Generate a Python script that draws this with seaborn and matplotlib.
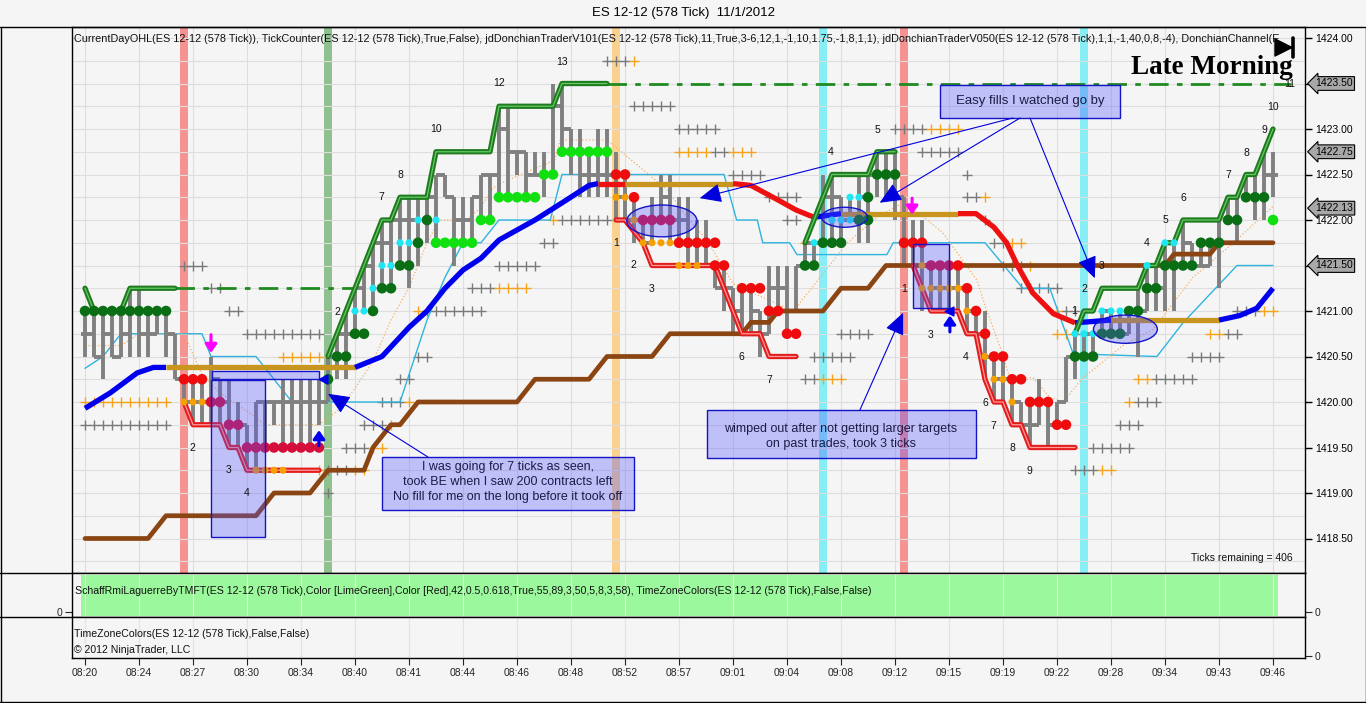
import numpy as np
import pandas as pd
import seaborn as sns
import matplotlib.pyplot as plt
from matplotlib.patches import Rectangle, Ellipse
from matplotlib.lines import Line2D
from matplotlib.transforms import blended_transform_factory

sns.set_style('white')
plt.rcParams['font.family'] = ['Liberation Sans', 'DejaVu Sans']

# ---------------------------------------------------------------
# Data (x = bar index, y = price)
# ---------------------------------------------------------------
time_labels = ['08:20', '08:24', '08:27', '08:30', '08:34', '08:40', '08:41', '08:44',
               '08:46', '08:48', '08:52', '08:57', '09:01', '09:04', '09:08', '09:12',
               '09:15', '09:19', '09:22', '09:28', '09:34', '09:43', '09:46']
price_ticks = [1418.5, 1419.0, 1419.5, 1420.0, 1420.5, 1421.0,
               1421.5, 1422.0, 1422.5, 1423.0, 1423.5, 1424.0]

bar_hi = [
    1421.0, 1421.0, 1421.0, 1421.0, 1421.0, 1421.25, 1421.25, 1421.0, 1421.0, 1421.0,
    1420.75, 1420.25, 1420.25, 1420.25, 1420.5, 1420.25, 1420.25, 1420.0, 1419.75, 1420.0,
    1420.0, 1420.0, 1420.25, 1420.25, 1420.25, 1420.25, 1420.25, 1420.5, 1420.75, 1421.0,
    1421.25, 1421.5, 1421.75, 1422.0, 1422.0, 1422.25, 1422.25, 1422.25, 1422.25, 1422.5,
    1422.5, 1422.25, 1422.25, 1422.25, 1422.5, 1422.5, 1423.25, 1423.25, 1422.75, 1422.75,
    1422.75, 1422.75, 1423.5, 1423.5, 1423.0, 1423.0, 1422.75, 1423.0, 1423.0, 1422.75,
    1422.5, 1422.25, 1422.0, 1422.25, 1422.5, 1422.5, 1422.25, 1422.25, 1422.0, 1422.0,
    1421.5, 1421.5, 1421.25, 1421.25, 1421.25, 1421.0, 1421.5, 1421.5, 1421.5, 1421.5,
    1421.75, 1421.75, 1422.5, 1422.5, 1422.25, 1422.25, 1422.5, 1422.5, 1422.75, 1422.75,
    1422.75, 1422.25, 1422.0, 1422.0, 1421.5, 1421.5, 1421.5, 1421.5, 1421.25, 1421.0,
    1421.0, 1420.5, 1420.5, 1420.25, 1420.0, 1420.0, 1420.25, 1420.0, 1420.0, 1420.5,
    1420.75, 1420.75, 1420.75, 1421.0, 1421.0, 1421.0, 1421.0, 1421.25, 1421.5, 1421.5,
    1421.75, 1421.75, 1422.0, 1421.75, 1421.75, 1421.75, 1422.0, 1422.25, 1422.25, 1422.5,
    1422.5, 1422.75, 1422.75]
bar_lo = [
    1420.5, 1420.5, 1420.25, 1420.5, 1420.5, 1420.5, 1420.5, 1420.5, 1420.75, 1420.5,
    1420.25, 1420.0, 1419.75, 1419.75, 1419.75, 1419.75, 1419.5, 1419.5, 1419.25, 1419.25,
    1419.5, 1419.75, 1419.5, 1419.5, 1419.5, 1419.5, 1419.75, 1420.0, 1420.25, 1420.25,
    1420.75, 1421.0, 1421.0, 1421.25, 1421.25, 1421.5, 1421.25, 1421.5, 1421.75, 1421.75,
    1422.25, 1421.5, 1421.75, 1421.75, 1422.0, 1422.0, 1422.25, 1422.25, 1422.5, 1422.25,
    1422.5, 1422.25, 1422.5, 1422.75, 1422.5, 1422.25, 1422.25, 1422.25, 1422.25, 1422.0,
    1422.0, 1421.75, 1421.75, 1421.75, 1422.0, 1421.75, 1421.75, 1421.5, 1421.5, 1421.5,
    1421.25, 1421.0, 1420.75, 1420.75, 1420.75, 1420.5, 1420.75, 1421.0, 1420.75, 1421.0,
    1421.5, 1421.5, 1421.75, 1421.75, 1421.75, 1422.0, 1421.75, 1421.75, 1422.25, 1422.25,
    1422.0, 1421.5, 1421.5, 1421.0, 1421.0, 1421.0, 1421.0, 1421.0, 1420.75, 1420.75,
    1420.25, 1420.0, 1420.0, 1419.75, 1419.75, 1419.5, 1419.75, 1419.5, 1419.75, 1420.0,
    1420.25, 1420.5, 1420.5, 1420.75, 1420.75, 1420.75, 1420.75, 1420.5, 1421.0, 1421.0,
    1421.0, 1421.0, 1421.5, 1421.5, 1421.5, 1421.5, 1421.25, 1422.0, 1421.75, 1422.25,
    1422.0, 1422.0, 1422.25]
bar_close = [
    1420.75, 1420.5, 1420.75, 1420.5, 1420.75, 1421.0, 1420.75, 1420.75, 1421.0, 1420.75,
    1420.25, 1420.0, 1420.0, 1420.0, 1420.25, 1420.0, 1419.75, 1419.75, 1419.5, 1420.0,
    1420.0, 1420.0, 1420.0, 1420.0, 1420.0, 1420.0, 1420.0, 1420.5, 1420.75, 1420.75,
    1421.25, 1421.5, 1421.75, 1421.75, 1422.0, 1422.0, 1422.0, 1422.25, 1422.25, 1422.5,
    1422.25, 1422.0, 1422.0, 1422.25, 1422.5, 1422.5, 1423.0, 1422.75, 1422.75, 1422.5,
    1422.5, 1422.5, 1423.25, 1423.0, 1422.75, 1422.5, 1422.5, 1422.5, 1422.5, 1422.25,
    1422.0, 1422.0, 1421.75, 1422.0, 1422.25, 1422.0, 1422.0, 1421.75, 1421.75, 1421.5,
    1421.25, 1421.25, 1421.0, 1420.75, 1421.0, 1420.75, 1421.25, 1421.25, 1421.0, 1421.5,
    1421.75, 1421.75, 1422.25, 1422.25, 1422.0, 1422.0, 1422.25, 1422.5, 1422.5, 1422.5,
    1422.25, 1421.75, 1421.75, 1421.5, 1421.25, 1421.25, 1421.25, 1421.25, 1421.0, 1420.75,
    1420.5, 1420.25, 1420.25, 1420.0, 1419.75, 1419.75, 1420.0, 1419.75, 1420.0, 1420.5,
    1420.5, 1420.75, 1420.75, 1421.0, 1420.75, 1420.75, 1421.0, 1421.0, 1421.25, 1421.25,
    1421.5, 1421.5, 1421.75, 1421.5, 1421.5, 1421.75, 1421.75, 1422.0, 1422.0, 1422.5,
    1422.25, 1422.5, 1422.5]
first_open = 1420.75

# upper Donchian trail (green) pieces
green_1_bar = [0, 1, 4, 5, 10]
green_1_val = [1421.25, 1421.0, 1421.0, 1421.25, 1421.25]
green_2_bar = [27, 28, 29, 30, 31, 32, 33, 34, 35, 38, 39, 45, 46, 52, 53, 58]
green_2_val = [1420.5, 1420.75, 1421.0, 1421.25, 1421.5, 1421.75, 1422.0, 1422.0,
               1422.25, 1422.25, 1422.75, 1422.75, 1423.25, 1423.25, 1423.5, 1423.5]
green_3_bar = [80, 83, 87, 88, 90]
green_3_val = [1421.75, 1422.5, 1422.5, 1422.75, 1422.75]
green_4_bar = [110, 111, 112, 113, 117, 118, 119, 120, 121, 122, 126, 127, 128, 129, 130, 131, 132]
green_4_val = [1420.75, 1421.0, 1421.0, 1421.25, 1421.25, 1421.5, 1421.5, 1421.75, 1421.75,
               1422.0, 1422.0, 1422.25, 1422.25, 1422.5, 1422.5, 1422.75, 1423.0]
dashdot_bar = [[10, 30], [58, 134]]
dashdot_val = [1421.25, 1423.5]

# lower trail (red) pieces
red_1_bar = [11, 12, 15, 16, 17, 18, 26]
red_1_val = [1420.0, 1419.75, 1419.75, 1419.5, 1419.5, 1419.25, 1419.25]
red_2_bar = [59, 60, 62, 63, 70, 73, 75, 76, 79]
red_2_val = [1422.0, 1422.0, 1421.75, 1421.5, 1421.5, 1420.75, 1420.75, 1420.5, 1420.5]
red_3_bar = [92, 94, 97, 98, 99, 100, 101, 102, 103, 104, 105, 110]
red_3_val = [1421.5, 1421.0, 1421.0, 1420.75, 1420.75, 1420.25, 1420.0, 1420.0,
             1419.75, 1419.75, 1419.5, 1419.5]

# slow average, coloured by slope
ma_bar = [0, 2.8, 5.8, 7.6, 9, 30, 33, 36, 38, 40, 42, 44, 46, 50, 53.5, 56, 57, 60, 72,
          74, 77, 79, 81, 84, 97, 99, 101, 102.4, 103.6, 105.3, 107.6, 110, 114, 126,
          128.3, 130.2, 132]
ma_val = [1419.93, 1420.1, 1420.32, 1420.38, 1420.38, 1420.38, 1420.5, 1420.82, 1421.0,
          1421.25, 1421.45, 1421.58, 1421.78, 1422.0, 1422.22, 1422.38, 1422.4, 1422.4,
          1422.4, 1422.38, 1422.22, 1422.11, 1422.03, 1422.07, 1422.07, 1422.07, 1421.92,
          1421.75, 1421.5, 1421.2, 1420.97, 1420.87, 1420.9, 1420.9, 1420.95, 1421.03, 1421.25]
ma_tone = ['up'] * 4 + ['flat'] + ['up'] * 11 + ['down', 'flat'] + ['down'] * 4 + \
          ['up', 'flat'] + ['down'] * 7 + ['up', 'flat'] + ['up'] * 3

# rising floor (brown)
brown_bar = [0, 7, 9, 19, 21, 25, 27, 31, 32, 34, 35, 37, 48, 50, 56, 58, 63, 65, 73, 74,
             76, 77, 82, 84, 87, 89, 120, 121, 125, 126, 132]
brown_val = [1418.5, 1418.5, 1418.75, 1418.75, 1419.0, 1419.0, 1419.25, 1419.25, 1419.5,
             1419.75, 1419.75, 1420.0, 1420.0, 1420.25, 1420.25, 1420.5, 1420.5, 1420.75,
             1420.75, 1420.875, 1420.875, 1421.0, 1421.0, 1421.25, 1421.25, 1421.5, 1421.5,
             1421.625, 1421.625, 1421.75, 1421.75]

# thin channel lines
cyan_bar = [0, 2, 4, 13, 14, 19, 23, 35, 38, 40, 42, 44, 46, 51.7, 53, 71, 72.4, 74.7, 75.3,
            78.3, 79.1, 89.1, 89.8, 100, 104.2, 107.2, 109.8, 119.1, 122, 128, 132]
cyan_val = [1420.37, 1420.5, 1420.75, 1420.75, 1420.5, 1420.5, 1420.0, 1420.0, 1420.9,
            1421.37, 1421.75, 1421.75, 1422.0, 1422.0, 1422.5, 1422.5, 1422.0, 1422.0,
            1421.75, 1421.75, 1421.62, 1421.62, 1421.75, 1421.75, 1421.25, 1421.25,
            1420.53, 1420.5, 1420.87, 1421.5, 1421.5]
tan_bar = [0, 4, 6, 11, 13, 15, 18, 20, 26, 28, 30, 32, 34, 36, 38, 39.4, 42.4, 43.9, 45.3,
           46.1, 52.2, 52.8, 58, 60.2, 64.7, 66.9, 69.1, 72, 75.3, 78.7, 81.7, 84.7, 88,
           90.9, 93.6, 95.3, 97.2, 99.1, 100.2, 101.7, 102.8, 105.3, 107.2, 108.7, 110.9,
           113.1, 115.3, 118.7, 123.1, 124.7, 127.6, 132]
tan_val = [1420.62, 1420.62, 1420.75, 1420.75, 1420.3, 1420.1, 1419.9, 1419.75, 1419.75,
           1419.9, 1420.15, 1420.45, 1420.9, 1421.26, 1421.75, 1422.0, 1422.0, 1422.13,
           1422.35, 1422.4, 1422.66, 1422.88, 1422.88, 1422.7, 1422.33, 1422.03, 1421.78,
           1421.3, 1421.15, 1421.0, 1421.37, 1421.75, 1422.03, 1422.19, 1422.0, 1421.86,
           1421.6, 1421.34, 1421.0, 1420.6, 1420.25, 1420.27, 1420.05, 1420.0, 1420.27,
           1420.44, 1420.62, 1420.8, 1421.37, 1421.5, 1421.75, 1422.15]

# dot rows: first bar, last bar, price, colour key
dot_start = [0, 11, 11, 14, 16, 18, 19, 27, 28, 30, 30, 32, 32, 33, 33, 35, 35, 37, 37, 38,
             39, 39, 44, 46, 51, 53, 59, 59, 61, 61, 62, 62, 66, 66, 70, 73, 76, 78, 80, 81,
             82, 83, 86, 85, 87, 88, 91, 93, 94, 97, 93, 98, 98, 99, 100, 100, 101, 101,
             103, 103, 105, 108, 110, 110, 113, 113, 116, 118, 118, 120, 120, 124, 127, 129, 132]
dot_end = [9, 13, 13, 15, 17, 26, 22, 27, 29, 31, 31, 32, 32, 34, 34, 36, 36, 37, 37, 38,
           39, 43, 45, 50, 52, 58, 60, 60, 61, 61, 65, 65, 70, 68, 71, 75, 77, 79, 81, 81,
           84, 85, 87, 86, 87, 90, 93, 93, 96, 97, 97, 98, 98, 99, 100, 100, 102, 102,
           104, 103, 107, 109, 112, 112, 115, 115, 117, 119, 118, 123, 121, 126, 128, 131, 132]
dot_price = [1421.0, 1420.25, 1420.0, 1420.0, 1419.75, 1419.5, 1419.25, 1420.25, 1420.5,
             1420.75, 1421.0, 1421.0, 1421.25, 1421.25, 1421.5, 1421.5, 1421.75, 1421.75,
             1422.0, 1422.0, 1422.0, 1421.75, 1422.0, 1422.25, 1422.5, 1422.75, 1422.5,
             1422.25, 1422.25, 1422.0, 1422.0, 1421.75, 1421.75, 1421.5, 1421.5, 1421.25,
             1421.0, 1420.75, 1421.5, 1421.75, 1421.75, 1422.0, 1422.0, 1422.25, 1422.25,
             1422.5, 1421.75, 1421.5, 1421.5, 1421.5, 1421.25, 1421.25, 1421.0, 1421.0,
             1420.75, 1420.5, 1420.5, 1420.25, 1420.25, 1420.0, 1420.0, 1419.75, 1420.5,
             1420.75, 1420.75, 1421.0, 1421.0, 1421.25, 1421.5, 1421.5, 1421.75, 1421.75,
             1422.0, 1422.25, 1422.0]
dot_tone = ['dg', 'red', 'org', 'crim', 'crim', 'crim', 'org', 'dg', 'dg', 'dg', 'cyan', 'dg',
            'cyan', 'dg', 'cyan', 'dg', 'cyan', 'dg', 'cyan', 'dg', 'cyan', 'lime', 'lime',
            'lime', 'lime', 'lime', 'red', 'org', 'red', 'org', 'crim', 'org', 'red', 'org',
            'red', 'red', 'red', 'red', 'dg', 'cyan', 'dg', 'cyan', 'dg', 'cyan', 'dg', 'dg',
            'red', 'org', 'crim', 'red', 'org', 'red', 'org', 'red', 'red', 'org', 'red',
            'org', 'red', 'org', 'red', 'red', 'dg', 'cyan', 'dg', 'cyan', 'dg', 'dg', 'cyan',
            'dg', 'cyan', 'dg', 'dg', 'dg', 'lime']

# projected "+" rows: first bar, last bar, price, colour key
cross_start = [11, 14, 16, 18, 22, 0, 0, 33, 36, 31, 34, 35, 37, 29, 32, 26, 27, 30, 27,
               37, 38, 43, 46, 46, 51, 52, 53, 58, 61, 61, 66, 66, 70, 72, 72, 76, 78, 80,
               90, 94, 93, 98, 98, 100, 100, 101, 103, 102, 105, 104, 108, 109, 108, 110,
               125, 127, 123, 117, 119, 116, 117, 115, 112, 110, 113, 84, 81, 80, 82, 128, 131]
cross_end = [13, 15, 17, 26, 26, 9, 9, 35, 36, 33, 34, 36, 38, 31, 33, 26, 29, 31, 27,
             37, 44, 45, 49, 50, 52, 52, 58, 60, 61, 65, 70, 69, 71, 74, 75, 79, 79, 80,
             93, 97, 97, 98, 99, 100, 100, 102, 104, 104, 105, 108, 108, 110, 109, 110,
             126, 128, 126, 118, 123, 116, 119, 117, 116, 112, 114, 87, 85, 81, 84, 130, 132]
cross_price = [1421.5, 1421.25, 1421.0, 1420.75, 1420.5, 1420.0, 1419.75, 1420.0, 1420.0,
               1419.75, 1419.75, 1420.25, 1420.5, 1419.5, 1419.5, 1419.25, 1419.25, 1419.25,
               1419.0, 1421.0, 1421.0, 1421.25, 1421.25, 1421.5, 1421.75, 1422.0, 1422.0,
               1423.75, 1423.75, 1423.25, 1423.0, 1422.75, 1422.75, 1422.75, 1422.5, 1422.25,
               1422.0, 1421.75, 1423.0, 1423.0, 1422.75, 1422.5, 1422.25, 1422.25, 1422.0,
               1421.75, 1421.75, 1421.5, 1421.5, 1421.25, 1421.0, 1421.0, 1420.75, 1420.75,
               1420.75, 1420.75, 1420.5, 1420.25, 1420.25, 1420.0, 1420.0, 1419.75, 1419.5,
               1419.25, 1419.25, 1420.75, 1420.5, 1420.25, 1420.25, 1421.0, 1421.0]
cross_tone = ['g', 'g', 'g', 'g', 'o', 'o', 'g', 'g', 'o', 'g', 'o', 'g', 'g', 'g', 'o', 'o',
              'g', 'o', 'g', 'o', 'g', 'g', 'o', 'g', 'g', 'o', 'g', 'g', 'o', 'g', 'g', 'o',
              'g', 'o', 'g', 'g', 'g', 'o', 'g', 'o', 'g', 'g', 'g', 'o', 'g', 'g', 'o', 'g',
              'o', 'g', 'o', 'g', 'o', 'g', 'o', 'g', 'g', 'o', 'g', 'o', 'g', 'g', 'g', 'g',
              'o', 'g', 'g', 'g', 'o', 'g', 'o']

# trade-count labels
count_bar = [11.9, 16, 18, 28, 32.9, 35, 39, 46, 53, 59, 60.9, 63, 72.9, 76, 82.9, 88, 91,
             94, 97.9, 100, 100.9, 103, 104.9, 109.9, 111, 112.9, 118, 120, 122, 127, 129,
             131, 132, 133.9]
count_price = [1419.49, 1419.25, 1419.0, 1420.99, 1422.25, 1422.5, 1423.0, 1423.5, 1423.74,
               1421.75, 1421.5, 1421.24, 1420.5, 1420.24, 1422.75, 1422.99, 1421.24, 1420.74,
               1420.5, 1419.99, 1419.74, 1419.49, 1419.24, 1421.0, 1421.24, 1421.49, 1421.75,
               1422.0, 1422.24, 1422.49, 1422.74, 1422.99, 1423.24, 1423.49]
count_text = ['2', '3', '4', '2', '7', '8', '10', '12', '13', '1', '2', '3', '6', '7', '4',
              '5', '1', '3', '4', '6', '7', '8', '9', '1', '2', '3', '4', '5', '6', '7', '8',
              '9', '10', '11']

# time-zone bands
band_bar = [11, 27, 59, 82, 91, 111]
band_tone = ['#f59391', '#8fc08f', '#f9d291', '#86eef4', '#f59391', '#86eef4']

# last-price tags on the price axis
tag_price = [1423.5, 1422.75, 1422.13, 1421.5]

# ---------------------------------------------------------------
# Figure layout (pixel geometry of the screenshot)
# ---------------------------------------------------------------
W, H = 1366, 703
fig = plt.figure(figsize=(W / 100, H / 100), dpi=100, facecolor='#f5f5f5')


def fx(px):
    return px / W


def fy(py):
    return 1 - py / H


ax = fig.add_axes([fx(72), fy(573), fx(1305) - fx(72), fy(27) - fy(573)])
ax2 = fig.add_axes([fx(72), fy(617), fx(1305) - fx(72), fy(573) - fy(617)])
ax3 = fig.add_axes([fx(72), fy(658), fx(1305) - fx(72), fy(617) - fy(658)])
for a in (ax, ax2, ax3):
    a.set_facecolor('#f5f5f5')
    for s in a.spines.values():
        s.set_color('black')
        s.set_linewidth(1)
    a.set_xlim(-13 / 9, 1220 / 9)

bars = np.arange(len(bar_hi))
grid_x = np.arange(0, len(bar_hi), 6)

# ---------------------------------------------------------------
# Main price panel
# ---------------------------------------------------------------
for b, c in zip(band_bar, band_tone):
    ax.axvspan(b - 0.48, b + 0.48, color=c, lw=0, zorder=0.5)
for v in np.arange(1418.25, 1424.01, 0.25):
    ax.axhline(v, color='#dedede', lw=0.8, zorder=1)
for gx in grid_x:
    ax.axvline(gx, color='#dedede', lw=0.8, zorder=1)

# projected crosses
cross_rows = []
for s, e, p, t in zip(cross_start, cross_end, cross_price, cross_tone):
    for b in range(s, e + 1):
        cross_rows.append((b, p, t))
cross_df = pd.DataFrame(cross_rows, columns=['bar', 'price', 'tone'])
for t, c in [('g', '#7a7a7a'), ('o', '#f5a31a')]:
    sub = cross_df[cross_df.tone == t]
    sns.scatterplot(x=sub.bar, y=sub.price, marker='+', s=48, color=c, linewidth=1,
                    ax=ax, zorder=2, legend=False)

# thin channel lines
sns.lineplot(x=cyan_bar, y=cyan_val, estimator=None, sort=False, color='#2fb4e0', lw=1,
             ax=ax, zorder=2.5)
sns.lineplot(x=tan_bar, y=tan_val, estimator=None, sort=False, color='#f2b066', lw=0.9,
             ls=':', ax=ax, zorder=2.5)

# dash-dot session lines
for bb, v in zip(dashdot_bar, dashdot_val):
    ax.plot(bb, [v, v], color='#1f8a1f', lw=2, dashes=(7, 3, 2, 3), zorder=2.6)

# gray range bars
opens = np.clip(np.r_[first_open, bar_close[:-1]], bar_lo, bar_hi)
ax.vlines(bars, bar_lo, bar_hi, color='#808080', lw=2.8, zorder=3)
ax.hlines(opens, bars - 0.5, bars, color='#808080', lw=2.8, zorder=3)
ax.hlines(bar_close, bars, bars + 0.5, color='#808080', lw=2.8, zorder=3)

# brown floor
sns.lineplot(x=brown_bar, y=brown_val, estimator=None, sort=False, color='#8b4513',
             lw=3.4, ax=ax, zorder=4)

# slope-coloured average
ma_color = {'up': '#0000ee', 'down': '#ee1111', 'flat': '#c8961e'}
run_start = 0
for i in range(1, len(ma_tone) + 1):
    if i == len(ma_tone) or ma_tone[i] != ma_tone[run_start]:
        xs = ma_bar[run_start:i + 1]
        ys = ma_val[run_start:i + 1]
        sns.lineplot(x=xs, y=ys, estimator=None, sort=False, color=ma_color[ma_tone[run_start]],
                     lw=3.8, ax=ax, zorder=4.5, solid_capstyle='butt')
        run_start = i

# trailing stops
for xs, ys in [(green_1_bar, green_1_val), (green_2_bar, green_2_val),
               (green_3_bar, green_3_val), (green_4_bar, green_4_val)]:
    sns.lineplot(x=xs, y=ys, estimator=None, sort=False, color='#1e7b1e', lw=3.8, ax=ax, zorder=5)
    sns.lineplot(x=xs, y=ys, estimator=None, sort=False, color='#66c866', lw=0.9, ax=ax, zorder=5.1)
for xs, ys in [(red_1_bar, red_1_val), (red_2_bar, red_2_val), (red_3_bar, red_3_val)]:
    sns.lineplot(x=xs, y=ys, estimator=None, sort=False, color='#e21b1b', lw=3.8, ax=ax, zorder=5)
    sns.lineplot(x=xs, y=ys, estimator=None, sort=False, color='#ff9a9a', lw=0.9, ax=ax, zorder=5.1)

# dots
dot_rows = []
for s, e, p, t in zip(dot_start, dot_end, dot_price, dot_tone):
    for b in range(s, e + 1):
        dot_rows.append((b, p, t))
dot_df = pd.DataFrame(dot_rows, columns=['bar', 'price', 'tone'])
dot_palette = {'dg': '#0a6e14', 'lime': '#10e010', 'cyan': '#1ee6f2', 'red': '#ee0c0c',
               'crim': '#d40f3c', 'org': '#f5a000'}
dot_sizes = {'dg': 58, 'lime': 58, 'red': 58, 'crim': 58, 'cyan': 26, 'org': 26}
sns.scatterplot(data=dot_df, x='bar', y='price', hue='tone', palette=dot_palette,
                size='tone', sizes=dot_sizes, edgecolor='none', legend=False, ax=ax, zorder=6)

# hand-drawn zones
zone_face = (0.32, 0.32, 1.0, 0.32)
for (x0, y0, w, h) in [(14.0, 1418.516, 6.0, 1.726), (14.1, 1420.253, 11.9, 0.088),
                       (92.0, 1421.033, 4.0, 0.703)]:
    ax.add_patch(Rectangle((x0, y0), w, h, fc=zone_face, ec='#1414c8', lw=1, zorder=7))
for (cx, cy, w, h) in [(64.1, 1421.99, 7.8, 0.35), (84.4, 1422.03, 5.1, 0.22),
                       (115.6, 1420.80, 7.1, 0.31)]:
    ax.add_patch(Ellipse((cx, cy), w, h, fc=zone_face, ec='#1414c8', lw=1, zorder=7))

# comment boxes
txt_kw = dict(ha='center', va='center', color='#1c1c48', fontsize=9, zorder=9)
ax.add_patch(Rectangle((33.0, 1418.81), 28.0, 0.586, fc=zone_face, ec='#1414c8', lw=1, zorder=8))
ax.text(47, 1419.286, 'I was going for 7 ticks as seen,', **txt_kw)
ax.text(47, 1419.121, 'took BE when I saw 200 contracts left', **txt_kw)
ax.text(47, 1418.956, 'No fill for me on the long before it took off', **txt_kw)
ax.add_patch(Rectangle((69.1, 1419.385), 29.9, 0.527, fc=zone_face, ec='#1414c8', lw=1, zorder=8))
ax.text(84, 1419.703, 'wimped out after not getting larger targets', **txt_kw)
ax.text(84, 1419.538, 'on past trades, took 3 ticks', **txt_kw)
ax.add_patch(Rectangle((95.0, 1423.121), 20.0, 0.363, fc=zone_face, ec='#1414c8', lw=1, zorder=8))
ax.text(105, 1423.305, 'Easy fills I watched go by', **dict(txt_kw, fontsize=9.5))

# pointer arrows
big_arrow = dict(arrowstyle='-|>,head_length=0.9,head_width=0.4', color='#0000dd', lw=0.8,
                 mutation_scale=15, shrinkA=0, shrinkB=0)
for tail, head in [((38.1, 1419.396), (27.0, 1420.09)), ((86.1, 1419.912), (90.9, 1420.98)),
                   ((103.1, 1423.121), (68.3, 1422.24)), ((103.9, 1423.121), (88.3, 1422.19)),
                   ((105.0, 1423.121), (112.2, 1421.36))]:
    ax.annotate('', xy=head, xytext=tail, arrowprops=big_arrow, zorder=9)
small_arrow = dict(arrowstyle='-|>,head_length=0.5,head_width=0.35', lw=2.2,
                   mutation_scale=10, shrinkA=0, shrinkB=0)
for tail, head, c in [((14, 1420.74), (14, 1420.54), '#ff00ff'),
                      ((91.9, 1422.24), (91.9, 1422.06), '#ff00ff'),
                      ((26, 1419.52), (26, 1419.69), '#0000ee'),
                      ((96.1, 1420.77), (96.1, 1420.95), '#0000ee')]:
    ax.annotate('', xy=head, xytext=tail, arrowprops=dict(small_arrow, color=c), zorder=9)
ax.scatter([26.4, 96.0], [1420.25, 1421.0], marker='<', s=40, color='#0000ee', zorder=9)

# counters
for b, p, t in zip(count_bar, count_price, count_text):
    ax.text(b, p, t, ha='center', va='center', fontsize=7.5, color='#111111', zorder=9)

# header + overlays
ax.text(2 / 1233, 1 - 12 / 546, 'CurrentDayOHL(ES 12-12 (578 Tick)), TickCounter(ES 12-12 (578 Tick),'
        'True,False), jdDonchianTraderV101(ES 12-12 (578 Tick),11,True,3-6,12,1,-1,10,1.75,-1,8,1,1), '
        'jdDonchianTraderV050(ES 12-12 (578 Tick),1,1,-1,40,0,8,-4), DonchianChannel(E',
        transform=ax.transAxes, ha='left', va='center', fontsize=7.8, color='#111111',
        clip_on=True, zorder=10)
ax.text(1293 / 9 - 85 / 9, 1418.29, 'Ticks remaining = 406', ha='right', va='center',
        fontsize=7.5, color='#111111', zorder=10)
fig.text(fx(1293), fy(68), 'Late Morning', ha='right', va='center', fontsize=19.5,
         fontweight='bold', family='Liberation Serif', color='black', zorder=10)
ax.scatter([133.1], [1423.90], marker='>', s=150, color='black', zorder=11, clip_on=False)
ax.plot([134.2, 134.2], [1423.79, 1424.0], color='black', lw=2.6, zorder=11)

# price axis
ax.set_xticks([])
ax.yaxis.tick_right()
ax.set_yticks(price_ticks)
ax.set_yticklabels([f'{v:.2f}' for v in price_ticks])
ax.tick_params(axis='y', labelsize=7.5, length=5, width=1, pad=2, colors='black')
ax.set_ylim(1424 - 535 / 91, 1424 + 11 / 91)
ax.set_xlabel('')
ax.set_ylabel('')
tag_tr = blended_transform_factory(ax.transAxes, ax.transData)
for p in tag_price:
    ax.text(1 + 10 / 1233, p, f'{p:.2f}', transform=tag_tr, ha='left', va='center',
            fontsize=7.5, color='black', zorder=12, clip_on=False,
            bbox=dict(boxstyle='larrow,pad=0.18', fc='#a8a8a8', ec='black', lw=0.8))

# ---------------------------------------------------------------
# Oscillator panel (all bars green)
# ---------------------------------------------------------------
ax2.bar(bars, [1.05] * len(bars), bottom=-0.1, width=1.0, color='#9cf89c', lw=0, zorder=1)
for gx in grid_x:
    ax2.axvline(gx, color='white', lw=0.8, alpha=0.6, zorder=1.5)
ax2.set_ylim(-5 / 39, 1)
ax2.set_yticks([0])
ax2.set_yticklabels(['0'])
ax2.set_xticks([])
ax2.tick_params(axis='y', left=True, right=True, labelleft=True, labelright=True,
                labelsize=7.5, length=5, pad=2)
ax2.text(3 / 1233, 26 / 44, 'SchaffRmiLaguerreByTMFT(ES 12-12 (578 Tick),Color [LimeGreen],'
         'Color [Red],42,0.5,0.618,True,55,89,3,50,5,8,3,58), TimeZoneColors(ES 12-12 (578 Tick),'
         'False,False)', transform=ax2.transAxes, ha='left', va='center', fontsize=7.6,
         color='#111111', zorder=3)

# ---------------------------------------------------------------
# Time panel
# ---------------------------------------------------------------
for gx in grid_x:
    ax3.axvline(gx, color='#e2e2e2', lw=0.8, zorder=1)
ax3.set_ylim(-2 / 39, 1)
ax3.set_yticks([0])
ax3.set_yticklabels(['0'])
ax3.tick_params(axis='y', left=False, right=True, labelleft=False, labelright=True,
                labelsize=7.5, length=5, pad=2)
ax3.set_xticks(grid_x)
ax3.set_xticklabels(time_labels)
ax3.tick_params(axis='x', labelsize=7.5, length=5, pad=2, bottom=True)
ax3.text(2 / 1233, 24 / 41, 'TimeZoneColors(ES 12-12 (578 Tick),False,False)',
         transform=ax3.transAxes, ha='left', va='center', fontsize=7.6, color='#111111')
ax3.text(2 / 1233, 8 / 41, '\u00a9 2012 NinjaTrader, LLC', transform=ax3.transAxes,
         ha='left', va='center', fontsize=7.6, color='#111111')

# ---------------------------------------------------------------
# Window frame and title
# ---------------------------------------------------------------
frame = [((0, 1366), (27, 27)), ((0.5, 0.5), (27, 702)), ((0, 1366), (702, 702)),
         ((1365.5, 1365.5), (27, 702)), ((0, 72), (573, 573)), ((0, 72), (617, 617))]
for xs, ys in frame:
    fig.add_artist(Line2D([fx(x) for x in xs], [fy(y) for y in ys], color='black', lw=1))
fig.text(fx(683), fy(13), 'ES 12-12 (578 Tick)  11/1/2012', ha='center', va='center',
         fontsize=9.5, color='black')

fig.savefig('out.png', dpi=100, facecolor=fig.get_facecolor())
